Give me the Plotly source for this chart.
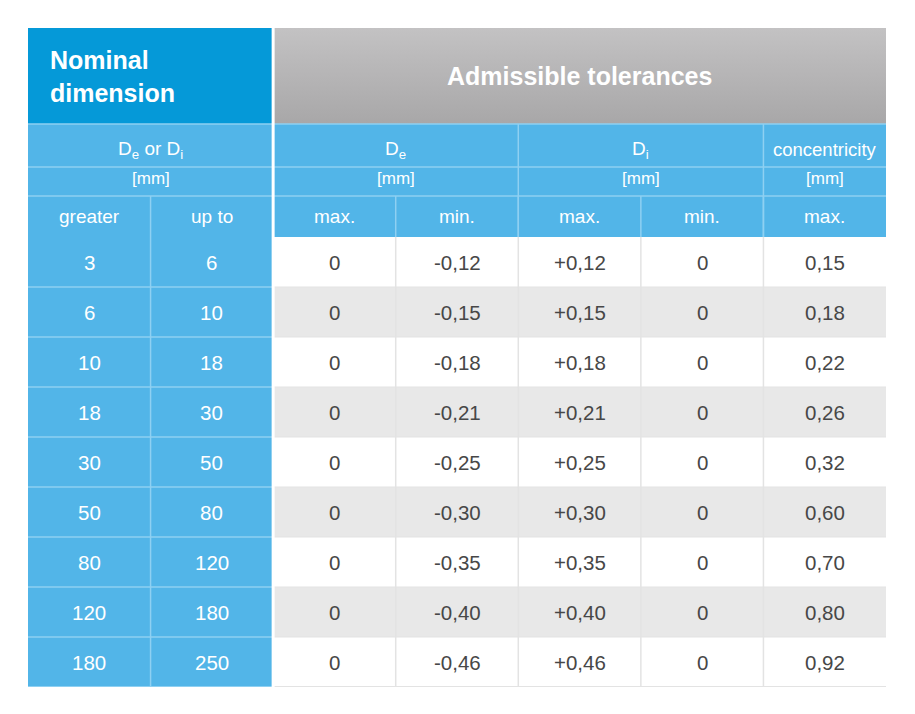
#!/usr/bin/env python
# coding: utf-8

"""
Tolerance table for nominal dimensions, drawn with Plotly shapes and annotations.
"""

import plotly.graph_objects as go

## Table content

nom_header = "Nominal<br>dimension"
tol_header = "Admissible tolerances"
group_labels = ["D<sub>e</sub> or D<sub>i</sub>", "D<sub>e</sub>", "D<sub>i</sub>", "concentricity"]
group_spans = [(0, 2), (2, 4), (4, 6), (6, 7)]
unit_label = "[mm]"
sub_labels = ["greater", "up to", "max.", "min.", "max.", "min.", "max."]

greater = [3, 6, 10, 18, 30, 50, 80, 120, 180]
up_to = [6, 10, 18, 30, 50, 80, 120, 180, 250]
de_max = [0, 0, 0, 0, 0, 0, 0, 0, 0]
de_min = [-0.12, -0.15, -0.18, -0.21, -0.25, -0.30, -0.35, -0.40, -0.46]
di_max = [0.12, 0.15, 0.18, 0.21, 0.25, 0.30, 0.35, 0.40, 0.46]
di_min = [0, 0, 0, 0, 0, 0, 0, 0, 0]
concentricity = [0.15, 0.18, 0.22, 0.26, 0.32, 0.60, 0.70, 0.80, 0.92]


def fmt(v, sign=False):
    # german style decimal comma
    if v == 0:
        return "0"
    s = f"{v:+.2f}" if sign else f"{v:.2f}"
    return s.replace(".", ",")


columns = [
    [str(v) for v in greater],
    [str(v) for v in up_to],
    [fmt(v) for v in de_max],
    [fmt(v) for v in de_min],
    [fmt(v, sign=True) for v in di_max],
    [fmt(v) for v in di_min],
    [fmt(v) for v in concentricity],
]

## Geometry (row heights in px, columns in unit steps)

n_cols = len(sub_labels)
n_rows = len(greater)
head_h = [96, 43, 29, 41]
row_h = 50
edges = [0]
for h in head_h + [row_h] * n_rows:
    edges.append(edges[-1] + h)
total_h = edges[-1]

DARK_BLUE = "#0599d8"
LIGHT_BLUE = "#52b5e8"
BLUE_LINE = "#8ed0f2"
GREY_ROW = "#e8e8e8"
GREY_LINE = "#e3e3e3"
TEXT_DARK = "#474747"
FONT = "Liberation Sans"

shapes = []
annots = []


def rect(x0, x1, y0, y1, color):
    shapes.append(dict(type="rect", xref="x", yref="y", x0=x0, x1=x1, y0=y0, y1=y1,
                       fillcolor=color, line_width=0, layer="below"))


def seg(x0, y0, x1, y1, color, width=1.5):
    shapes.append(dict(type="line", xref="x", yref="y", x0=x0, x1=x1, y0=y0, y1=y1,
                       line=dict(color=color, width=width), layer="above"))


def text(x, y, s, size, color="white", bold=False, **kw):
    annots.append(dict(x=x, y=y, xref="x", yref="y", text=f"<b>{s}</b>" if bold else s,
                       showarrow=False, font=dict(family=FONT, size=size, color=color), **kw))


# cell fills
rect(0, 2, edges[0], edges[1], DARK_BLUE)
rect(0, n_cols, edges[1], edges[4], LIGHT_BLUE)
for i in range(n_rows):
    y0, y1 = edges[4 + i], edges[5 + i]
    rect(0, 2, y0, y1, LIGHT_BLUE)
    rect(2, n_cols, y0, y1, "white" if i % 2 == 0 else GREY_ROW)

# header grid lines
for k in (1, 2, 3):
    seg(0, edges[k], n_cols, edges[k], BLUE_LINE)
for a, b in group_spans[1:]:
    seg(a, edges[1], a, edges[4], BLUE_LINE)
for c in range(1, n_cols):
    seg(c, edges[3], c, edges[4], BLUE_LINE)

# body grid lines
for i in range(1, n_rows):
    seg(0, edges[4 + i], 2, edges[4 + i], BLUE_LINE)
    seg(2, edges[4 + i], n_cols, edges[4 + i], GREY_LINE, 1)
seg(1, edges[4], 1, total_h, BLUE_LINE)
for c in range(3, n_cols):
    seg(c, edges[4], c, total_h, GREY_LINE, 1.5)
seg(0, total_h, 2, total_h, BLUE_LINE, 2)
seg(2, total_h, n_cols, total_h, GREY_LINE, 2)
# white gap between nominal and tolerance blocks
seg(2, edges[0], 2, total_h, "white", 3)

# header texts
text(0, (edges[0] + edges[1]) / 2, nom_header, 25, bold=True, xanchor="left", xshift=20,
     align="left")
text((2 + n_cols) / 2, (edges[0] + edges[1]) / 2, tol_header, 25, bold=True)
for (a, b), lab in zip(group_spans, group_labels):
    size = 18.5 if lab == "concentricity" else 19
    text((a + b) / 2, (edges[1] + edges[2]) / 2, lab, size, yshift=-4)
    text((a + b) / 2, (edges[2] + edges[3]) / 2, unit_label, 17, yshift=3)
for c, lab in enumerate(sub_labels):
    text(c + 0.5, (edges[3] + edges[4]) / 2, lab, 19)

# body texts
for c, col in enumerate(columns):
    for i, s in enumerate(col):
        text(c + 0.5, (edges[4 + i] + edges[5 + i]) / 2, s, 20.5,
             color="white" if c < 2 else TEXT_DARK)

fig = go.Figure()
# grey gradient behind the "Admissible tolerances" header
fig.add_trace(go.Scatter(
    x=[2, n_cols, n_cols, 2, 2], y=[edges[0], edges[0], edges[1], edges[1], edges[0]],
    mode="lines", line=dict(width=0), fill="toself", hoverinfo="skip", showlegend=False,
    fillgradient=dict(type="vertical", start=edges[0], stop=edges[1],
                      colorscale=[[0, "#c3c2c3"], [1, "#a8a7a8"]]),
))

# page body adds an 8px offset, so margins are shifted to keep the table in place
fig.update_layout(
    width=915, height=714,
    margin=dict(l=20, r=37, t=20, b=35),
    paper_bgcolor="white", plot_bgcolor="white",
    xaxis=dict(range=[0, n_cols], visible=False, fixedrange=True),
    yaxis=dict(range=[total_h, 0], visible=False, fixedrange=True),
    shapes=shapes, annotations=annots,
    showlegend=False,
)

fig.write_html("out.html")
